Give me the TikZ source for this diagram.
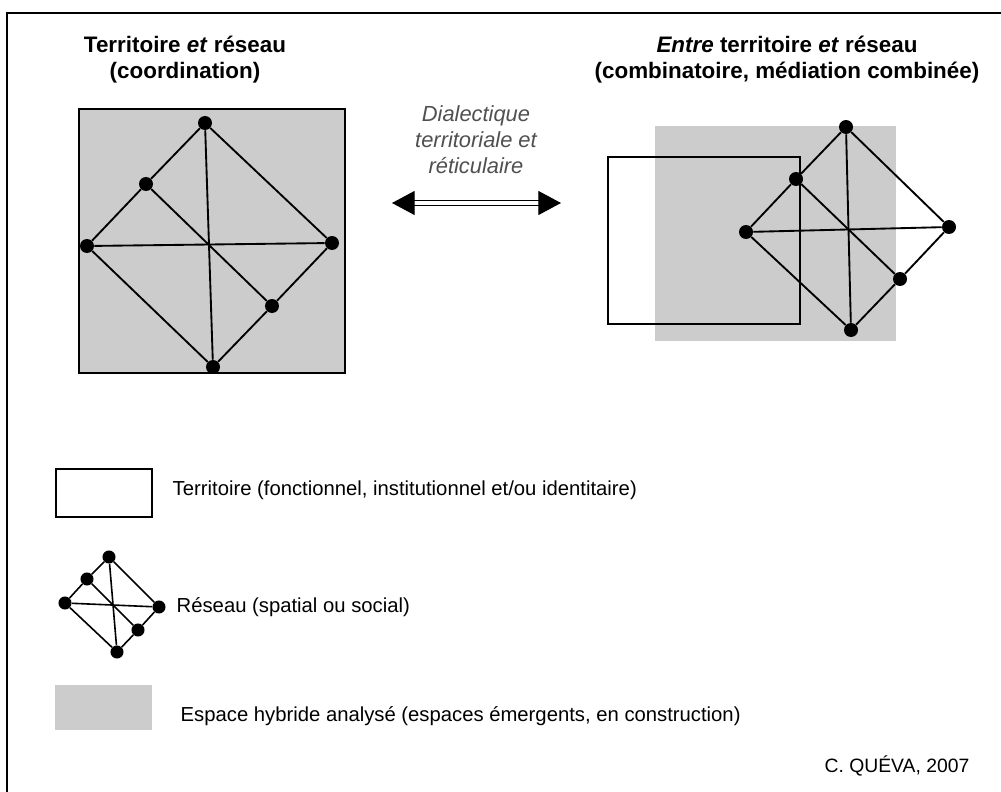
\documentclass[tikz,border=0pt]{standalone}
\usepackage{fontspec}
\setmainfont{Liberation Sans}
\usetikzlibrary{arrows.meta, positioning}
\definecolor{hybgray}{RGB}{204, 204, 204}
\definecolor{dialgray}{RGB}{80, 80, 80}

\tikzset{
  dot/.style={circle, fill=black, inner sep=0pt, minimum size=10.5pt},
  smalldot/.style={circle, fill=black, inner sep=0pt, minimum size=9.8pt},
  link/.style={line width=1.4pt},
  titre/.style={font=\fontsize{16.8}{19.5}\selectfont\bfseries, align=center},
  legende/.style={font=\fontsize{15.2}{19.5}\selectfont, anchor=west}
}

\begin{document}
\begin{tikzpicture}[x=0.75pt, y=-0.75pt]
  \useasboundingbox (0,0) rectangle (1001,792);
  \fill[white] (0,0) rectangle (1001,792);
  \draw[line width=1.5pt] (7,13) rectangle (1015,805);

  % titres
  \node[titre] (titreA) at (185,60) {Territoire \textit{et} réseau\\(coordination)};
  \node[titre] (titreB) at (787,60) {\textit{Entre} territoire \textit{et} réseau\\(combinatoire, médiation combinée)};

  % coordination
  \draw[line width=1.4pt, fill=hybgray] (79,109) rectangle (345,373);
  \node[dot] (a1) at (205,123) {};
  \node[dot] (a2) at (146,184) {};
  \node[dot] (a3) at (87,246) {};
  \node[dot] (a4) at (332,243) {};
  \node[dot] (a5) at (272,306) {};
  \node[dot] (a6) at (213,367) {};
  \foreach \u/\v in {a1/a2, a2/a3, a3/a6, a6/a5, a5/a4, a4/a1, a1/a6, a3/a4, a2/a5}
    \draw[link] (\u) -- (\v);

  % dialectique
  \node[font=\fontsize{16.4}{19.5}\selectfont\itshape, text=dialgray, align=center] (dial) at (476,140)
    {Dialectique\\territoriale et\\réticulaire};
  \coordinate (flG) at (392,203);
  \coordinate (flD) at (561,203);
  \draw[line width=0.9pt, double, double distance=2.4pt,
    {Triangle[length=17pt, width=18pt]}-{Triangle[length=17pt, width=18pt]}] (flG) -- (flD);

  % combinatoire
  \fill[hybgray] (655,126) rectangle (896,341);
  \draw[line width=1.4pt] (608,157) rectangle (800,324);
  \node[dot] (b1) at (846,127) {};
  \node[dot] (b2) at (796,179) {};
  \node[dot] (b3) at (746,232) {};
  \node[dot] (b4) at (949,227) {};
  \node[dot] (b5) at (900,279) {};
  \node[dot] (b6) at (851,330) {};
  \foreach \u/\v in {b1/b2, b2/b3, b3/b6, b6/b5, b5/b4, b4/b1, b1/b6, b3/b4, b2/b5}
    \draw[link] (\u) -- (\v);

  % legende
  \draw[line width=1.2pt] (56,469) rectangle (152,517);
  \node[legende] (legT) at (168,490) {Territoire (fonctionnel, institutionnel et/ou identitaire)};

  \node[smalldot] (c1) at (109,557) {};
  \node[smalldot] (c2) at (87,579) {};
  \node[smalldot] (c3) at (65,603) {};
  \node[smalldot] (c4) at (159,607) {};
  \node[smalldot] (c5) at (138,630) {};
  \node[smalldot] (c6) at (117,652) {};
  \foreach \u/\v in {c1/c2, c2/c3, c3/c6, c6/c5, c5/c4, c4/c1, c1/c6, c3/c4, c2/c5}
    \draw[line width=1.2pt] (\u) -- (\v);
  \node[legende] (legR) at (172,607) {Réseau (spatial ou social)};

  \fill[hybgray] (55,685) rectangle (152,730);
  \node[legende] (legE) at (176,716) {Espace hybride analysé (espaces émergents, en construction)};

  \node[font=\fontsize{14.5}{15}\selectfont, anchor=east] (auteur) at (974,766) {C. QUÉVA, 2007};
\end{tikzpicture}
\end{document}
